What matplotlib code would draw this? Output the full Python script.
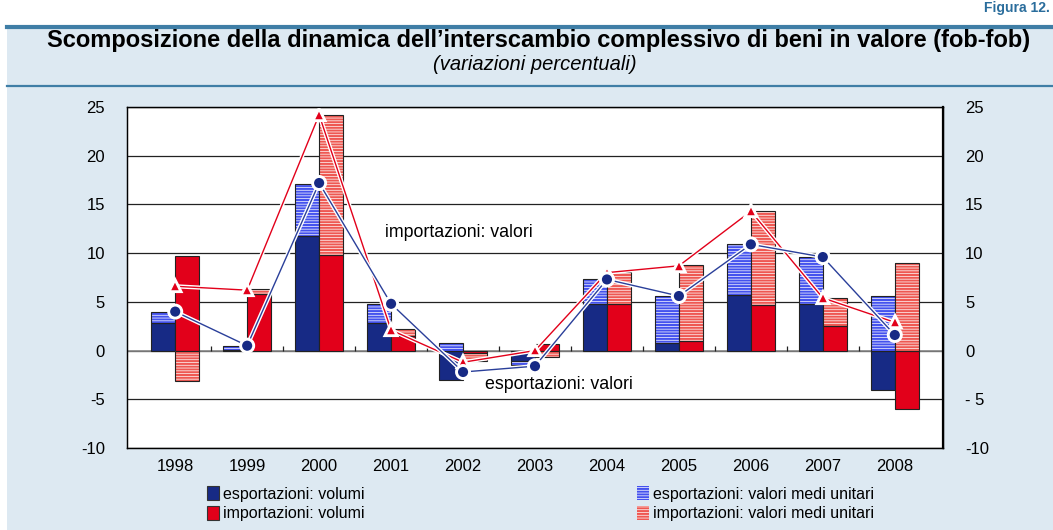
import numpy as np
import matplotlib.pyplot as plt
import matplotlib.patheffects as pe
from matplotlib.patches import Patch, Rectangle

plt.rcParams['font.family'] = ['Liberation Sans', 'DejaVu Sans']
plt.rcParams['hatch.linewidth'] = 0.5

# dati: variazioni percentuali
anni = ['1998', '1999', '2000', '2001', '2002', '2003', '2004', '2005', '2006', '2007', '2008']
exp_volumi = [2.8, 0.1, 11.8, 2.8, -3.0, -1.1, 4.8, 0.8, 5.7, 4.8, -4.0]
exp_vmu = [1.2, 0.4, 5.3, 2.0, 0.8, -0.4, 2.5, 4.8, 5.2, 4.8, 5.6]
imp_volumi = [9.7, 5.8, 9.8, 1.5, -0.2, 0.7, 4.8, 1.0, 4.7, 2.5, -6.0]
imp_vmu = [-3.1, 0.5, 14.4, 0.7, -0.9, -0.7, 3.3, 7.8, 9.6, 2.9, 9.0]
exp_valori = [4.0, 0.5, 17.2, 4.8, -2.2, -1.6, 7.3, 5.6, 10.9, 9.6, 1.6]
imp_valori = [6.6, 6.2, 24.2, 2.1, -1.2, 0.0, 8.0, 8.7, 14.3, 5.4, 2.9]

NAVY = '#172a85'
RED = '#e2001a'
BLUE_H = '#4452ee'
RED_H = '#ee5852'
BG = '#dde9f2'
FRAME = '#3f7ea6'

W, H = 1053, 530
fig = plt.figure(figsize=(W / 100, H / 100), dpi=100, facecolor=BG)

def fx(px):
    return px / W

def fy(py):
    return 1 - py / H

# fascia bianca in alto e a sinistra, filetti del riquadro
fig.patches.append(Rectangle((0, fy(26)), 1, 1 - fy(26), transform=fig.transFigure,
                             facecolor='white', edgecolor='none', zorder=0))
fig.patches.append(Rectangle((0, 0), fx(7), 1, transform=fig.transFigure,
                             facecolor='white', edgecolor='none', zorder=0))
fig.add_artist(plt.Line2D([fx(7), 1], [fy(27), fy(27)], transform=fig.transFigure,
                          color=FRAME, lw=3))
fig.add_artist(plt.Line2D([fx(7), 1], [fy(86), fy(86)], transform=fig.transFigure,
                          color=FRAME, lw=1.6))
fig.text(fx(1050), fy(1), 'Figura 12.', fontsize=10, fontweight='bold', color='#2a6d9c',
         ha='right', va='top')

fig.text(fx(539), fy(40), "Scomposizione della dinamica dell\u2019interscambio complessivo di beni in valore (fob-fob)",
         fontsize=17, fontweight='bold', ha='center', va='center')
fig.text(fx(535), fy(64), '(variazioni percentuali)', fontsize=14.5, style='italic',
         ha='center', va='center')

ax = fig.add_axes([fx(127), fy(448), fx(943 - 127), fy(107) - fy(448)])
ax.set_facecolor('white')

x = np.arange(len(anni))
w = 1 / 3
ev, eu = np.array(exp_volumi), np.array(exp_vmu)
iv, iu = np.array(imp_volumi), np.array(imp_vmu)
# impilamento: valori dello stesso segno si sommano, di segno opposto partono da zero
e_bot = np.where(np.sign(eu) == np.sign(ev), ev, 0)
i_bot = np.where(np.sign(iu) == np.sign(iv), iv, 0)

ax.bar(x - w / 2, ev, w, color=NAVY, edgecolor='#222222', lw=0.8, zorder=3)
ax.bar(x - w / 2, eu, w, bottom=e_bot, color=BLUE_H, edgecolor='white', lw=0,
       hatch='------', zorder=3)
ax.bar(x - w / 2, eu, w, bottom=e_bot, fill=False, edgecolor='#222222', lw=0.8, zorder=3)

ax.bar(x + w / 2, iv, w, color=RED, edgecolor='#222222', lw=0.8, zorder=3)
ax.bar(x + w / 2, iu, w, bottom=i_bot, color=RED_H, edgecolor='white', lw=0,
       hatch='------', zorder=3)
ax.bar(x + w / 2, iu, w, bottom=i_bot, fill=False, edgecolor='#222222', lw=0.8, zorder=3)

halo = [pe.Stroke(linewidth=3.0, foreground='white'), pe.Normal()]
ax.plot(x, imp_valori, color=RED, lw=1.0, marker='^', ms=7, mfc=RED, mec='white',
        mew=1.1, path_effects=halo, zorder=5)
ax.plot(x, exp_valori, color='#2a3f9a', lw=1.0, marker='o', ms=8.5, mfc=NAVY, mec='white',
        mew=1.2, path_effects=halo, zorder=6)

ax.text(2.92, 12.1, 'importazioni: valori', fontsize=12.8, ha='left', va='center', zorder=7)
ax.text(4.31, -3.5, 'esportazioni: valori', fontsize=12.8, ha='left', va='center', zorder=7)

ax.set_xlim(-0.67, len(anni) - 1 + 0.67)
ax.set_ylim(-10, 25)
yt = np.arange(-10, 26, 5)
ax.set_yticks(yt)
ax.set_yticklabels([str(v) for v in yt])
ax.grid(axis='y', color='#222222', lw=0.9, zorder=1)
ax.axhline(0, color='#888888', lw=1.2, zorder=2)
ax.vlines(x[:-1] + 0.5, 0, 0.5, color='#222222', lw=0.9, zorder=2)
ax.set_xticks(x)
ax.set_xticklabels(anni)
ax.tick_params(axis='both', length=0, labelsize=12)
ax.tick_params(axis='x', pad=8)
ax.tick_params(axis='y', pad=16)
for s in ax.spines.values():
    s.set_color('#111111')
    s.set_linewidth(1.0)

ax2 = ax.twinx()
ax2.set_ylim(ax.get_ylim())
ax2.set_yticks(yt)
ax2.set_yticklabels([('- 5' if v == -5 else str(v)) for v in yt])
ax2.tick_params(axis='y', length=0, labelsize=12, pad=16)
ax2.spines['right'].set_linewidth(1.6)

legend_kw = dict(frameon=False, fontsize=11.5, handlelength=0.7, handleheight=0.9,
                 handletextpad=0.25, labelspacing=0.3, borderaxespad=0)
h_left = [Patch(facecolor=NAVY, edgecolor='#333333', lw=0.8),
          Patch(facecolor=RED, edgecolor='#333333', lw=0.8)]
fig.legend(h_left, ['esportazioni: volumi', 'importazioni: volumi'], loc='upper left',
           bbox_to_anchor=(fx(201), fy(480)), **legend_kw)
h_right = [Patch(facecolor=BLUE_H, edgecolor='white', hatch='------', lw=0),
           Patch(facecolor=RED_H, edgecolor='white', hatch='------', lw=0)]
fig.legend(h_right, ['esportazioni: valori medi unitari', 'importazioni: valori medi unitari'],
           loc='upper left', bbox_to_anchor=(fx(631), fy(480)), **legend_kw)

fig.savefig('out.png', dpi=100, facecolor=BG)
